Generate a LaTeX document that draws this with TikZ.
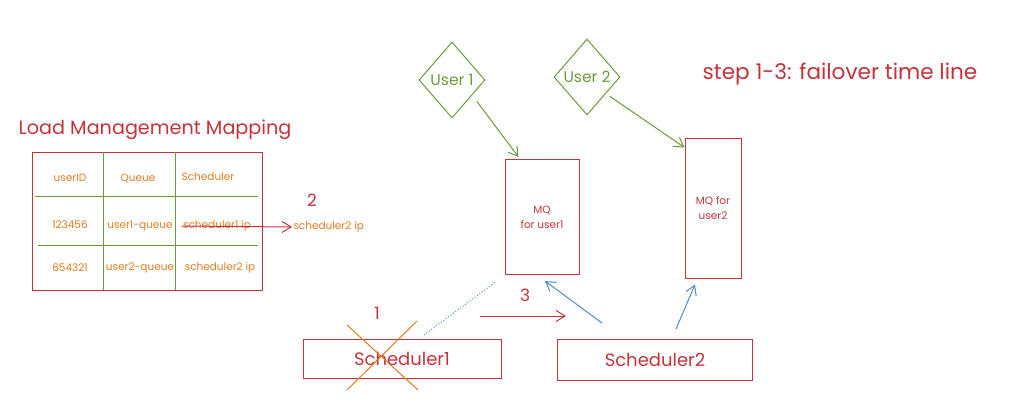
\documentclass[tikz,border=0pt]{standalone}
\usepackage{fontspec}
\setmainfont{Poppins}
\usetikzlibrary{arrows.meta,positioning,shapes.geometric}
\definecolor{skred}{HTML}{C3343A}
\definecolor{skgreen}{HTML}{6A9A3A}
\definecolor{skorange}{HTML}{E07B1F}
\definecolor{skblue}{HTML}{4F8AC9}

\begin{document}
\begin{tikzpicture}[x=1pt, y=-1pt, line width=1pt,
  redbox/.style={draw=skred, rectangle, inner sep=0pt},
  userdia/.style={draw=skgreen, diamond, inner sep=0pt, minimum width=66pt, minimum height=76pt, text=skgreen, font=\fontsize{15.5}{17}\selectfont},
  cell/.style={text=skorange, font=\fontsize{10.5}{12}\selectfont, inner sep=1pt},
  bigred/.style={text=skred, font=\fontsize{18}{20}\selectfont},
  steplbl/.style={text=skred, font=\fontsize{17}{19}\selectfont},
  sketcharrow/.style={-{Straight Barb[length=9pt,width=11pt]}}]
  \useasboundingbox (0,0) rectangle (1014,415);

  % mapping table
  \node[bigred, font=\fontsize{19.2}{21}\selectfont] (title) at (155,130) {Load Management Mapping};
  \node[redbox, minimum width=230pt, minimum height=138pt] (tbl) at (147,221) {};
  \draw[skgreen] (103,152) -- (103,290);
  \draw[skgreen] (175,152) -- (175,290);
  \draw[skgreen] (35,196) -- (258,196);
  \draw[skgreen] (38,245) -- (258,245);
  \node[cell] (hid) at (70,178) {userID};
  \node[cell] (hq) at (138,178) {Queue};
  \node[cell] (hs) at (208,177) {Scheduler};
  \node[cell] (id1) at (70,225) {123456};
  \node[cell] (q1) at (140,226) {user1-queue};
  \node[cell] (s1ip) at (217,226) {scheduler1 ip};
  \node[cell] (id2) at (70,268) {654321};
  \node[cell] (q2) at (140,268) {user2-queue};
  \node[cell] (s2ip2) at (220,268) {scheduler2 ip};
  \node[cell, anchor=west] (s2ip) at (292,227) {scheduler2 ip};
  \draw[skred, sketcharrow] (s1ip.west) -- (s2ip.west);
  \node[steplbl] (n2) at (312,200) {2};

  % users and queues
  \node[userdia] (u1) at (452,80) {User 1};
  \node[userdia] (u2) at (587,77) {User 2};
  \node[redbox, minimum width=74pt, minimum height=115pt, align=center, text=skred,
        font=\fontsize{10.5}{15}\selectfont] (mq1) at (542,217) {MQ\\for user1};
  \node[redbox, minimum width=56pt, minimum height=140pt, align=center, text=skred,
        font=\fontsize{10.5}{15}\selectfont] (mq2) at (713,208) {MQ for\\user2};
  \draw[skgreen, sketcharrow] ([xshift=8pt,yshift=-2pt]u1.south east) -- ([xshift=14pt,yshift=2pt]mq1.north west);
  \draw[skgreen, sketcharrow] ([xshift=6pt]u2.south east) -- ([yshift=-10pt]mq2.north west);
  \node[bigred, font=\fontsize{21.6}{23}\selectfont] (note) at (840,74) {step 1-3: failover time line};

  % schedulers
  \node[redbox, minimum width=198pt, minimum height=39pt, bigred] (sch1) at (402,359) {Scheduler1};
  \node[redbox, minimum width=195pt, minimum height=41pt, bigred] (sch2) at (655,360) {Scheduler2};
  \draw[skorange] (347,325) -- (418,390);
  \draw[skorange] (417,321) -- (347,390);
  \node[steplbl] (n1) at (377,313) {1};
  \draw[skblue, dotted, line width=1pt] ([xshift=22pt,yshift=4pt]sch1.north) -- ([xshift=-9pt,yshift=-7pt]mq1.south west);
  \node[steplbl] (n3) at (525,295) {3};
  \coordinate (mv1) at (480,316);
  \coordinate (mv2) at (566,316);
  \draw[skred, sketcharrow] (mv1) -- (mv2);
  \draw[skblue, sketcharrow] ([xshift=-53pt,yshift=16pt]sch2.north) -- ([xshift=3pt,yshift=-6pt]mq1.south);
  \draw[skblue, sketcharrow] ([xshift=21pt,yshift=10pt]sch2.north) -- ([xshift=-18pt,yshift=-6pt]mq2.south);
\end{tikzpicture}
\end{document}
